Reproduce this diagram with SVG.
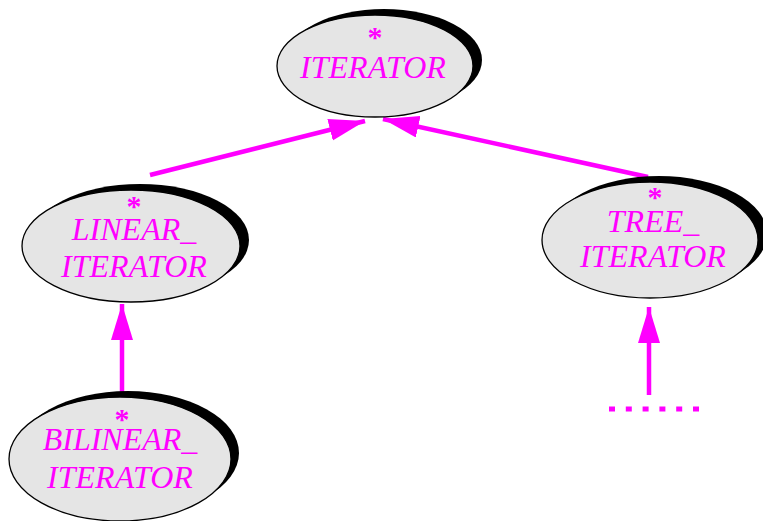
<svg xmlns="http://www.w3.org/2000/svg" width="763" height="521" viewBox="0 0 763 521">
<style>
.shadow{fill:#000}
.body{fill:#e5e5e5;stroke:#000;stroke-width:1.3}
.lbl{font-family:"Liberation Serif","Times New Roman",serif;font-style:italic;font-size:32px;fill:#ff00ff;text-anchor:middle}
.star{font-family:"Liberation Serif","Times New Roman",serif;font-weight:bold;font-size:30px;fill:#ff00ff;text-anchor:middle}
.edge{stroke:#ff00ff;stroke-width:4.5;fill:none}
</style>
<defs>
<marker id="ah" markerUnits="userSpaceOnUse" markerWidth="38" markerHeight="24" refX="36" refY="11" orient="auto">
<path d="M0,0 L36,11 L0,22 z" fill="#ff00ff"/>
</marker>
</defs>
<rect width="763" height="521" fill="#fff"/>
<g id="connectors">
<line class="edge" x1="150" y1="175" x2="365" y2="121" marker-end="url(#ah)"/>
<line class="edge" x1="648" y1="177" x2="383" y2="119" marker-end="url(#ah)"/>
<line class="edge" x1="122" y1="393" x2="122" y2="304" marker-end="url(#ah)"/>
<line class="edge" x1="649" y1="395" x2="649" y2="307" marker-end="url(#ah)"/>
<line x1="609" y1="409" x2="699" y2="409" stroke="#ff00ff" stroke-width="5" stroke-dasharray="6 10.8"/>
</g>
<g id="iterator">
<ellipse class="shadow" cx="384" cy="60" rx="98" ry="51"/>
<ellipse class="body" cx="375" cy="66" rx="98" ry="51"/>
<text class="star" x="375" y="47">*</text>
<text class="lbl" x="373" y="78">ITERATOR</text>
</g>
<g id="linear_iterator">
<ellipse class="shadow" cx="140" cy="240" rx="109" ry="56"/>
<ellipse class="body" cx="131" cy="246" rx="109" ry="56"/>
<text class="star" x="134" y="216">*</text>
<text class="lbl" x="134" y="240">LINEAR_</text>
<text class="lbl" x="134" y="277">ITERATOR</text>
</g>
<g id="tree_iterator">
<ellipse class="shadow" cx="659" cy="234" rx="108" ry="58"/>
<ellipse class="body" cx="650" cy="240" rx="108" ry="58"/>
<text class="star" x="655" y="207">*</text>
<text class="lbl" x="653" y="232">TREE_</text>
<text class="lbl" x="653" y="267">ITERATOR</text>
</g>
<g id="bilinear_iterator">
<ellipse class="shadow" cx="128" cy="453" rx="111" ry="62"/>
<ellipse class="body" cx="120" cy="459" rx="111" ry="62"/>
<text class="star" x="122" y="429">*</text>
<text class="lbl" x="120" y="450">BILINEAR_</text>
<text class="lbl" x="120" y="488">ITERATOR</text>
</g>
</svg>
